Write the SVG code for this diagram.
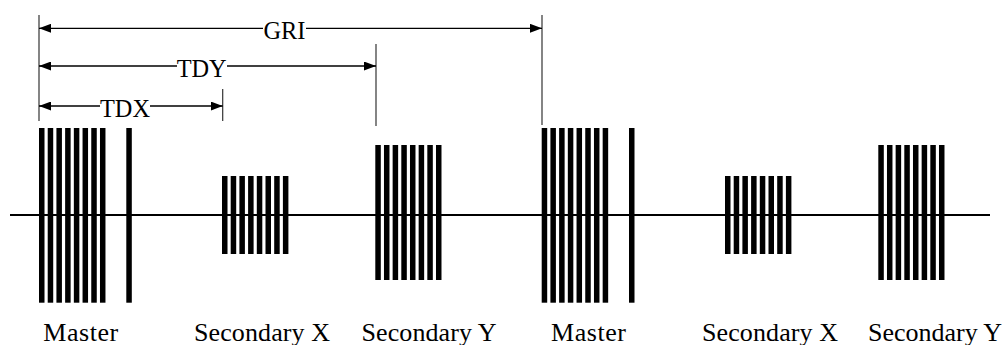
<svg xmlns="http://www.w3.org/2000/svg" xmlns:xlink="http://www.w3.org/1999/xlink" width="1007" height="345" viewBox="0 0 1007 345">
<style>
  text { font-family: "Liberation Serif", "Times New Roman", serif; font-size: 26px; fill: #000; text-anchor: middle; }
  .top { font-size: 25px; }
  .bar { fill: #000; }
  .dim { stroke: #000; stroke-width: 1.3; fill: none; }
  .tick { stroke: #333; stroke-width: 1.2; fill: none; }
  .axis { stroke: #000; stroke-width: 2; fill: none; }
</style>
<defs>
  <marker id="arrow" viewBox="0 0 12 9" refX="12" refY="4.5" markerWidth="12" markerHeight="9" markerUnits="userSpaceOnUse" orient="auto-start-reverse">
    <path d="M0,0 L12,4.5 L0,9 z" fill="#000"/>
  </marker>
  <g id="masterBars">
    <rect class="bar" x="0" y="128" width="5.5" height="174.7"/>
    <rect class="bar" x="8.71" y="128" width="5.5" height="174.7"/>
    <rect class="bar" x="17.42" y="128" width="5.5" height="174.7"/>
    <rect class="bar" x="26.13" y="128" width="5.5" height="174.7"/>
    <rect class="bar" x="34.84" y="128" width="5.5" height="174.7"/>
    <rect class="bar" x="43.55" y="128" width="5.5" height="174.7"/>
    <rect class="bar" x="52.26" y="128" width="5.5" height="174.7"/>
    <rect class="bar" x="60.97" y="128" width="5.5" height="174.7"/>
    <rect class="bar" x="87.3" y="128" width="5.5" height="174.7"/>
  </g>
  <g id="xBars">
    <rect class="bar" x="0" y="176" width="5.5" height="78"/>
    <rect class="bar" x="8.7" y="176" width="5.5" height="78"/>
    <rect class="bar" x="17.4" y="176" width="5.5" height="78"/>
    <rect class="bar" x="26.1" y="176" width="5.5" height="78"/>
    <rect class="bar" x="34.8" y="176" width="5.5" height="78"/>
    <rect class="bar" x="43.5" y="176" width="5.5" height="78"/>
    <rect class="bar" x="52.2" y="176" width="5.5" height="78"/>
    <rect class="bar" x="60.9" y="176" width="5.5" height="78"/>
  </g>
  <g id="yBars">
    <rect class="bar" x="0" y="145" width="5.5" height="135"/>
    <rect class="bar" x="8.67" y="145" width="5.5" height="135"/>
    <rect class="bar" x="17.34" y="145" width="5.5" height="135"/>
    <rect class="bar" x="26.01" y="145" width="5.5" height="135"/>
    <rect class="bar" x="34.68" y="145" width="5.5" height="135"/>
    <rect class="bar" x="43.35" y="145" width="5.5" height="135"/>
    <rect class="bar" x="52.02" y="145" width="5.5" height="135"/>
    <rect class="bar" x="60.69" y="145" width="5.5" height="135"/>
  </g>
</defs>

<g id="axis">
  <line class="axis" x1="10" y1="215" x2="990" y2="215"/>
</g>

<g id="master1">
  <use href="#masterBars" x="39"/>
  <text x="80.7" y="341" textLength="75" lengthAdjust="spacing">Master</text>
</g>
<g id="secondaryX1">
  <use href="#xBars" x="222"/>
  <text x="262" y="341" textLength="136" lengthAdjust="spacing">Secondary X</text>
</g>
<g id="secondaryY1">
  <use href="#yBars" x="375.3"/>
  <text x="429" y="341" textLength="135" lengthAdjust="spacing">Secondary Y</text>
</g>
<g id="master2">
  <use href="#masterBars" x="541.7"/>
  <text x="588.5" y="341" textLength="75" lengthAdjust="spacing">Master</text>
</g>
<g id="secondaryX2">
  <use href="#xBars" x="725"/>
  <text x="770" y="341" textLength="136" lengthAdjust="spacing">Secondary X</text>
</g>
<g id="secondaryY2">
  <use href="#yBars" x="878.3"/>
  <text x="935" y="341" textLength="134" lengthAdjust="spacing">Secondary Y</text>
</g>

<g id="connectors">
  <line class="tick" x1="39" y1="15" x2="39" y2="121"/>
  <line class="tick" x1="222.7" y1="89" x2="222.7" y2="121"/>
  <line class="tick" x1="376" y1="44" x2="376" y2="126"/>
  <line class="tick" x1="542" y1="15" x2="542" y2="125"/>

  <line class="dim" x1="39" y1="28.3" x2="263" y2="28.3" marker-start="url(#arrow)"/>
  <line class="dim" x1="306" y1="28.3" x2="542" y2="28.3" marker-end="url(#arrow)"/>
  <text class="top" x="284.5" y="38.8" textLength="42" lengthAdjust="spacingAndGlyphs">GRI</text>

  <line class="dim" x1="39" y1="66" x2="177" y2="66" marker-start="url(#arrow)"/>
  <line class="dim" x1="227" y1="66" x2="376" y2="66" marker-end="url(#arrow)"/>
  <text class="top" x="201.7" y="77.3" textLength="50" lengthAdjust="spacingAndGlyphs">TDY</text>

  <line class="dim" x1="39" y1="106" x2="100" y2="106" marker-start="url(#arrow)"/>
  <line class="dim" x1="150" y1="106" x2="222.7" y2="106" marker-end="url(#arrow)"/>
  <text class="top" x="125" y="117" textLength="50" lengthAdjust="spacingAndGlyphs">TDX</text>
</g>
</svg>
